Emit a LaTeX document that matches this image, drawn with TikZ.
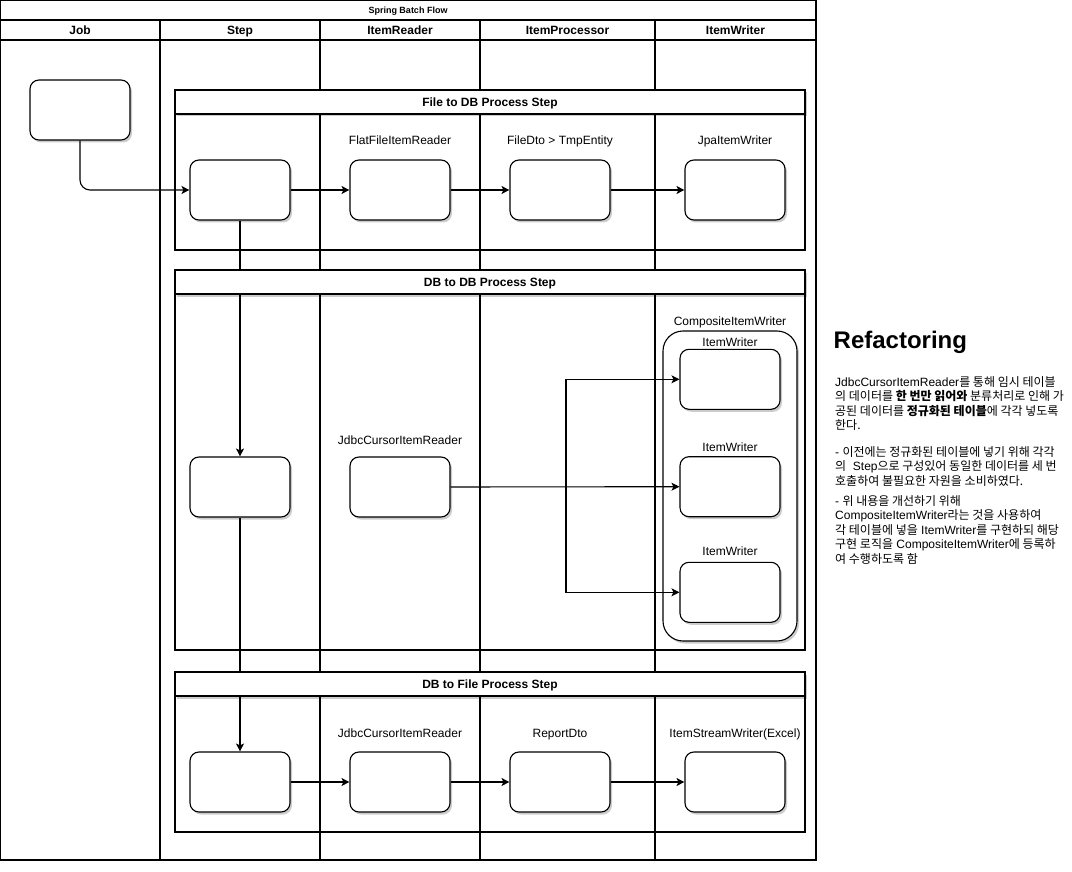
\documentclass[tikz,border=0pt]{standalone}
\usepackage{fontspec}
\setmainfont{Liberation Sans}
\newfontfamily\krfont{Noto Sans CJK KR}
\usetikzlibrary{arrows.meta,shadows,backgrounds}
\newcommand\KR[1]{{\krfont #1}}
\begin{document}
\begin{tikzpicture}[x=1pt,y=-1pt,
  shd/.style={drop shadow={shadow xshift=2pt,shadow yshift=-2.5pt,opacity=0.2,fill=black}},
  box/.style={draw,fill=white,rounded corners=9pt,minimum width=100pt,minimum height=60pt,inner sep=0pt,line width=1.1pt,shd},
  lbl/.style={font=\fontsize{12}{14}\selectfont,inner sep=0pt,anchor=base},
  lanehd/.style={font=\bfseries\fontsize{12}{14}\selectfont,inner sep=0pt,anchor=base},
  frame/.style={draw,line width=1.1pt,minimum width=630pt,inner sep=0pt},
  fhead/.style={draw,fill=white,line width=1.1pt,minimum width=630pt,minimum height=24pt,inner sep=0pt,
    text height=8.6pt,text depth=0pt,font=\bfseries\fontsize{12}{14}\selectfont,shd},
  arr/.style={draw,line width=1.1pt,-{Stealth[length=8pt,width=8pt,inset=2pt]}},
  txt/.style={font=\fontsize{12}{14}\selectfont,inner sep=0pt,anchor=base west},
]
\useasboundingbox (0,0) rectangle (1072,872);

% lane headers
\node[font=\bfseries\fontsize{9}{11}\selectfont,inner sep=0pt,anchor=base] (title) at (408,13.3) {Spring Batch Flow};
\node[lanehd] (hjob) at (80,34.3) {Job};
\node[lanehd] (hstep) at (240,34.3) {Step};
\node[lanehd] (hreader) at (400,34.3) {ItemReader};
\node[lanehd] (hproc) at (567.5,34.3) {ItemProcessor};
\node[lanehd] (hwriter) at (735.5,34.3) {ItemWriter};

% job
\node[box] (job) at (80,110) {};

% frames
\node[frame,minimum height=160pt] (f1) at (490,170) {};
\node[fhead] (f1h) at (490,102) {File to DB Process Step};
\node[frame,minimum height=380pt] (f2) at (490,460) {};
\node[fhead] (f2h) at (490,282) {DB to DB Process Step};
\node[frame,minimum height=160pt] (f3) at (490,752) {};
\node[fhead] (f3h) at (490,684) {DB to File Process Step};

% step 1
\node[box] (s1) at (240,190) {};
\node[box] (r1) at (400,190) {};
\node[box] (p1) at (560,190) {};
\node[box] (w1) at (735,190) {};
\node[lbl] (lr1) at (400,145) {FlatFileItemReader};
\node[lbl] (lp1) at (560,145) {FileDto > TmpEntity};
\node[lbl] (lw1) at (735,145) {JpaItemWriter};

% step 2
\node[box] (s2) at (240,487) {};
\node[box] (r2) at (400,487) {};
\node[lbl] (lr2) at (400,444.3) {JdbcCursorItemReader};
\node[lbl] (lcw) at (730,325) {CompositeItemWriter};
\node[draw,fill=white,rounded corners=20pt,minimum width=134pt,minimum height=310pt,line width=1.1pt,inner sep=0pt,shd] (cw) at (730,486) {};
\node[box] (wa) at (730,379.3) {};
\node[box] (wb) at (730,486.7) {};
\node[box] (wc) at (730,592.3) {};
\node[lbl] (lwa) at (730,346) {ItemWriter};
\node[lbl] (lwb) at (730,451) {ItemWriter};
\node[lbl] (lwc) at (730,555) {ItemWriter};

% step 3
\node[box] (s3) at (240,782) {};
\node[box] (r3) at (400,782) {};
\node[box] (p3) at (560,782) {};
\node[box] (w3) at (735,782) {};
\node[lbl] (lr3) at (400,737.3) {JdbcCursorItemReader};
\node[lbl] (lp3) at (560,737.3) {ReportDto};
\node[lbl] (lw3) at (735,737.3) {ItemStreamWriter(Excel)};

% connectors
\draw[arr,rounded corners=10pt] (job.south) |- (s1.west);
\draw[arr] (s1.east) -- (r1.west);
\draw[arr] (r1.east) -- (p1.west);
\draw[arr] (p1.east) -- (w1.west);

\coordinate (br) at (566,487);
\draw[arr] (r2.east) -- (wb.west);
\draw[arr] (br) |- (wa.west);
\draw[arr] (br) |- (wc.west);

\draw[arr] (s3.east) -- (r3.west);
\draw[arr] (r3.east) -- (p3.west);
\draw[arr] (p3.east) -- (w3.west);

\begin{pgfonlayer}{background}
  \draw[line width=1.1pt] (0.5,0.5) rectangle (816,860);
  \draw[line width=1.1pt] (0.5,20) -- (816,20);
  \draw[line width=1.1pt] (0.5,40) -- (816,40);
  \foreach \lx in {160,320,480,655} \draw[line width=1.1pt] (\lx,20) -- (\lx,860);
  \draw[arr] (s1.south) -- (s2.north);
  \draw[arr] (s2.south) -- (s3.north);
\end{pgfonlayer}

% right text
\node[font=\bfseries\fontsize{24}{28}\selectfont,inner sep=0pt,anchor=base west] (rt) at (833.5,348.6) {Refactoring};
\node[txt] (t1) at (835,386) {JdbcCursorItemReader\KR{를 통해 임시 테이블}};
\node[txt] (t2) at (835,400.5) {\KR{의 데이터를 \textbf{한 번만 읽어와} 분류처리로 인해 가}};
\node[txt] (t3) at (835,415) {\KR{공된 데이터를 \textbf{정규화된 테이블}에 각각 넣도록}};
\node[txt] (t4) at (835,429.5) {\KR{한다.}};
\node[txt] (t5) at (835,456) {- \KR{이전에는 정규화된 테이블에 넣기 위해 각각}};
\node[txt] (t6) at (835,470.5) {\KR{의}\ \ Step\KR{으로 구성있어 동일한 데이터를 세 번}};
\node[txt] (t7) at (835,485) {\KR{호출하여 불필요한 자원을 소비하였다.}};
\node[txt] (t8) at (835,505) {- \KR{위 내용을 개선하기 위해}};
\node[txt] (t9) at (835,519.5) {CompositeItemWriter\KR{라는 것을 사용하여}};
\node[txt] (t10) at (835,534) {\KR{각 테이블에 넣을} ItemWriter\KR{를 구현하되 해당}};
\node[txt] (t11) at (835,548.5) {\KR{구현 로직을} CompositeItemWriter\KR{에 등록하}};
\node[txt] (t12) at (835,563) {\KR{여 수행하도록 함}};
\end{tikzpicture}
\end{document}
